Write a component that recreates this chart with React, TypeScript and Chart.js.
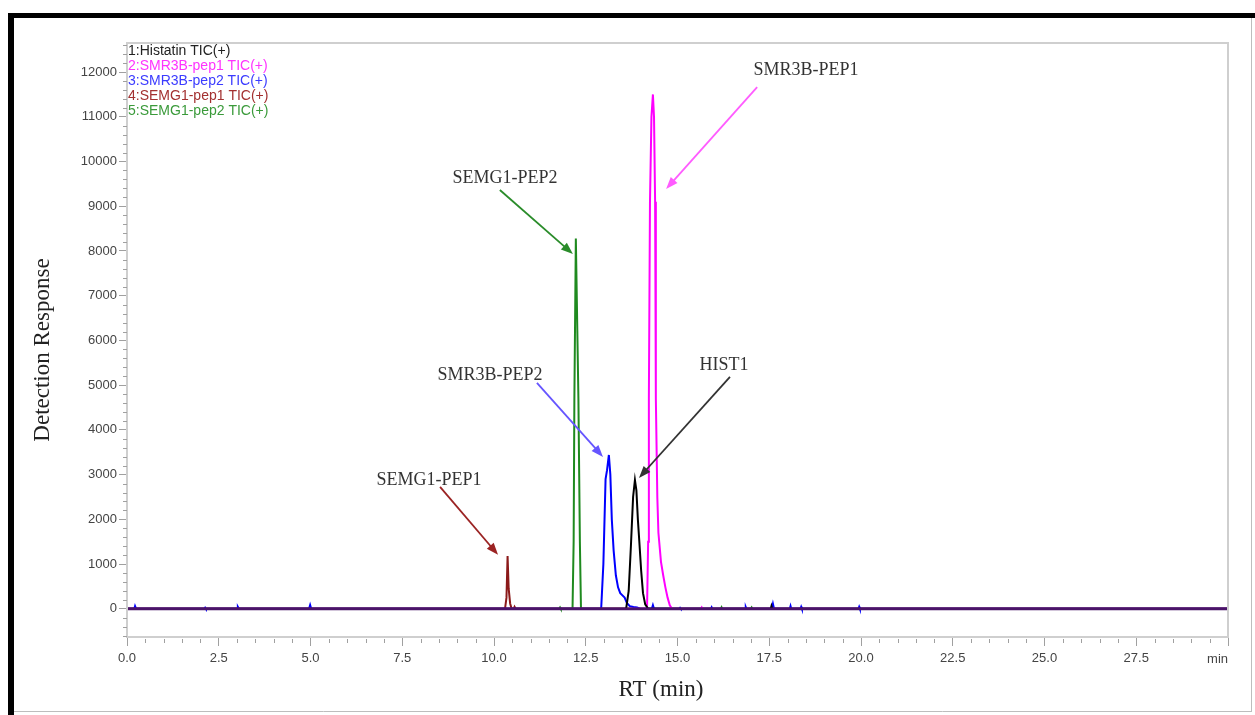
import React, { useEffect, useRef } from 'react';
import { Chart, registerables } from 'chart.js';

Chart.register(...registerables);

// ---------- data ----------
const seriesLabels = [
  '1:Histatin TIC(+)',
  '2:SMR3B-pep1 TIC(+)',
  '3:SMR3B-pep2 TIC(+)',
  '4:SEMG1-pep1 TIC(+)',
  '5:SEMG1-pep2 TIC(+)',
];
const seriesColors = ['#000000', '#ff00ff', '#0000ff', '#8b1a1a', '#1f8a1f'];
const legendColors = ['#222222', '#ff33ff', '#3b3bff', '#a33030', '#3a9a3a'];

// [RT (min), response]
const histatin: [number, number][] = [
  [0, 0], [13.6, 0], [13.67, 400], [13.73, 1400], [13.79, 2500], [13.84, 2880], [13.88, 2650],
  [13.92, 2000], [13.96, 1500], [14.01, 850], [14.06, 350], [14.12, 100], [14.2, 0],
  [17.54, 0], [17.56, 60], [17.58, 0], [30, 0],
];
const smr3bPep1: [number, number][] = [
  [0, 0], [14.17, 0], [14.2, 1500], [14.22, 4700], [14.25, 9100], [14.29, 11000], [14.33, 11500],
  [14.36, 11000], [14.39, 9100], [14.41, 4700], [14.45, 2500], [14.48, 1700], [14.55, 1050],
  [14.61, 750], [14.67, 480], [14.73, 250], [14.79, 80], [14.85, 0], [15.64, 0], [15.66, 30],
  [15.68, 0], [30, 0],
];
const smr3bPep2: [number, number][] = [
  [0, 0], [0.2, 0], [0.22, 60], [0.25, 0], [2.11, 0], [2.13, 25], [2.15, 0], [3.0, 0], [3.02, 45],
  [3.05, 0], [4.96, 0], [4.99, 85], [5.02, 0], [12.92, 0], [12.98, 1000], [13.04, 2900],
  [13.08, 3100], [13.13, 3440], [13.17, 3000], [13.21, 2000], [13.26, 1300], [13.32, 750],
  [13.38, 480], [13.44, 350], [13.5, 300], [13.56, 250], [13.62, 130], [13.7, 60], [13.8, 40],
  [13.9, 30], [14.0, 0], [14.3, 0], [14.33, 80], [14.36, 0], [15.05, 0], [15.07, 20], [15.09, 0],
  [15.91, 0], [15.93, 35], [15.95, 0], [16.84, 0], [16.86, 40], [16.88, 0], [17.57, 0],
  [17.6, 110], [17.63, 0], [18.06, 0], [18.08, 60], [18.1, 0], [18.35, 0], [18.37, 45],
  [18.39, 0], [19.93, 0], [19.95, 45], [19.97, 0], [30, 0],
];
const semg1Pep1: [number, number][] = [
  [0, 0], [10.3, 0], [10.34, 250], [10.37, 1180], [10.4, 450], [10.44, 120], [10.48, 0],
  [10.54, 0], [10.56, 45], [10.59, 0], [30, 0],
];
const semg1Pep2: [number, number][] = [
  [0, 0], [11.78, 0], [11.8, 30], [11.82, 0], [12.14, 0], [12.17, 1500], [12.19, 4700],
  [12.23, 8280], [12.3, 4700], [12.34, 1500], [12.37, 0], [16.18, 0],
  [16.2, 35], [16.22, 0], [17.0, 0], [17.02, 30], [17.04, 0], [30, 0],
];
const seriesData = [histatin, smr3bPep1, smr3bPep2, semg1Pep1, semg1Pep2];

const xTickValues = [0, 2.5, 5, 7.5, 10, 12.5, 15, 17.5, 20, 22.5, 25, 27.5, 30];
const yTickValues = [0, 1000, 2000, 3000, 4000, 5000, 6000, 7000, 8000, 9000, 10000, 11000, 12000];
const xUnitLabel = 'min';
const xTitle = 'RT (min)';
const yTitle = 'Detection Response';

// annotations, in data coordinates [RT, response]
const annotationTexts = ['SMR3B-PEP1', 'SEMG1-PEP2', 'SMR3B-PEP2', 'HIST1', 'SEMG1-PEP1'];
const annotationColors = ['#ff5cff', '#2a8c2a', '#6655ff', '#333333', '#9b2323'];
const annotationTextAt: [number, number][] = [[18.5, 12045], [10.3, 9631], [9.89, 5229], [16.27, 5453], [8.23, 2883]];
const annotationFrom: [number, number][] = [[17.17, 11665], [10.16, 9363], [11.17, 5050], [16.43, 5184], [8.53, 2726]];
const annotationTo: [number, number][] = [[14.69, 9385], [12.15, 7933], [12.97, 3397], [13.95, 2927], [10.11, 1207]];

const SANS = '"Liberation Sans", Arial, sans-serif';
const SERIF = '"Liberation Serif", "Times New Roman", serif';

const decorPlugin = {
  id: 'decor',
  beforeDraw(chart: any) {
    const ctx = chart.ctx;
    ctx.save();
    ctx.fillStyle = '#ffffff';
    ctx.fillRect(0, 0, chart.width, chart.height);
    // outer frame
    ctx.fillStyle = '#000000';
    ctx.fillRect(8, 13, chart.width - 8, 5);
    ctx.fillRect(8, 13, 6, chart.height - 13);
    ctx.strokeStyle = '#bdbdbd';
    ctx.lineWidth = 1;
    ctx.beginPath();
    ctx.moveTo(1251.5, 18);
    ctx.lineTo(1251.5, 712);
    ctx.moveTo(14, 711.5);
    ctx.lineTo(1252, 711.5);
    ctx.stroke();
    ctx.restore();
  },
  afterDatasetsDraw(chart: any) {
    const ctx = chart.ctx;
    const a = chart.chartArea;
    const xs = chart.scales.x;
    const ys = chart.scales.y;
    ctx.save();
    // baseline (overlapping traces)
    const y0 = ys.getPixelForValue(0);
    ctx.strokeStyle = '#4a1468';
    ctx.lineWidth = 2.8;
    ctx.beginPath();
    ctx.moveTo(a.left, y0);
    ctx.lineTo(a.right, y0);
    ctx.stroke();

    // plot frame
    ctx.strokeStyle = '#cfcfcf';
    ctx.lineWidth = 2;
    ctx.strokeRect(a.left, a.top, a.right - a.left, a.bottom - a.top);

    // minor ticks
    ctx.strokeStyle = '#a0a0a0';
    ctx.lineWidth = 1;
    ctx.beginPath();
    for (let v = 0; v <= 30.0001; v += 0.5) {
      if (Math.abs(v / 2.5 - Math.round(v / 2.5)) < 1e-6) continue;
      const px = Math.round(xs.getPixelForValue(v)) + 0.5;
      ctx.moveTo(px, a.bottom + 2);
      ctx.lineTo(px, a.bottom + 6);
    }
    for (let v = -600; v <= 12600; v += 200) {
      if (v % 1000 === 0) continue;
      const py = Math.round(ys.getPixelForValue(v)) + 0.5;
      ctx.moveTo(a.left - 4, py);
      ctx.lineTo(a.left, py);
    }
    ctx.stroke();

    // unit label at the right end of x axis
    ctx.fillStyle = '#444444';
    ctx.font = `13px ${SANS}`;
    ctx.textAlign = 'right';
    ctx.textBaseline = 'middle';
    ctx.fillText(xUnitLabel, a.right, 659);

    // legend
    ctx.textAlign = 'left';
    ctx.font = `14px ${SANS}`;
    chart.data.datasets.forEach((ds: any, i: number) => {
      ctx.fillStyle = legendColors[i];
      ctx.fillText(ds.label, a.left + 1, a.top + 8 + i * 15);
    });

    // axis titles
    ctx.fillStyle = '#222222';
    ctx.font = `23px ${SERIF}`;
    ctx.textAlign = 'center';
    ctx.textBaseline = 'middle';
    ctx.fillText(xTitle, 661, 690);
    ctx.save();
    ctx.translate(43, (a.top + a.bottom) / 2 + 10);
    ctx.rotate(-Math.PI / 2);
    ctx.fillText(yTitle, 0, 0);
    ctx.restore();

    // annotations
    annotationTexts.forEach((t, i) => {
      const tx = xs.getPixelForValue(annotationTextAt[i][0]);
      const ty = ys.getPixelForValue(annotationTextAt[i][1]);
      ctx.fillStyle = '#333333';
      ctx.font = `18px ${SERIF}`;
      ctx.textAlign = 'center';
      ctx.textBaseline = 'middle';
      ctx.fillText(t, tx, ty);
      const x1 = xs.getPixelForValue(annotationFrom[i][0]);
      const y1 = ys.getPixelForValue(annotationFrom[i][1]);
      const x2 = xs.getPixelForValue(annotationTo[i][0]);
      const y2 = ys.getPixelForValue(annotationTo[i][1]);
      const ang = Math.atan2(y2 - y1, x2 - x1);
      const hl = 12;
      const hw = 4.5;
      ctx.strokeStyle = annotationColors[i];
      ctx.fillStyle = annotationColors[i];
      ctx.lineWidth = 1.8;
      ctx.beginPath();
      ctx.moveTo(x1, y1);
      ctx.lineTo(x2 - Math.cos(ang) * hl * 0.8, y2 - Math.sin(ang) * hl * 0.8);
      ctx.stroke();
      ctx.beginPath();
      ctx.moveTo(x2, y2);
      ctx.lineTo(x2 - Math.cos(ang) * hl - Math.sin(ang) * hw, y2 - Math.sin(ang) * hl + Math.cos(ang) * hw);
      ctx.lineTo(x2 - Math.cos(ang) * hl + Math.sin(ang) * hw, y2 - Math.sin(ang) * hl - Math.cos(ang) * hw);
      ctx.closePath();
      ctx.fill();
    });
    ctx.restore();
  },
};

export default function App() {
  const canvasRef = useRef<HTMLCanvasElement | null>(null);

  useEffect(() => {
    const canvas = canvasRef.current;
    if (!canvas) return;
    const datasets = seriesData.map((d, i) => ({
      label: seriesLabels[i],
      data: d.map(([x, y]) => ({ x, y })),
      borderColor: seriesColors[i],
      backgroundColor: seriesColors[i],
      borderWidth: 2,
      pointRadius: 0,
      tension: 0,
      fill: false,
    }));
    const chart = new Chart(canvas, {
      type: 'line',
      data: { datasets },
      plugins: [decorPlugin],
      options: {
        animation: false,
        responsive: false,
        layout: { padding: { left: 0, top: 43, right: 27, bottom: 0 } },
        plugins: { legend: { display: false }, tooltip: { enabled: false } },
        scales: {
          x: {
            type: 'linear',
            min: 0,
            max: 30,
            afterBuildTicks: (s: any) => {
              s.ticks = xTickValues.map((v) => ({ value: v }));
            },
            afterFit: (s: any) => {
              s.height = 78;
            },
            ticks: {
              autoSkip: false,
              maxRotation: 0,
              padding: 5,
              color: '#444444',
              font: { family: SANS, size: 13 },
              callback: (v: any) => (Math.abs(Number(v) - 30) < 1e-6 ? '' : Number(v).toFixed(1)),
            },
            grid: { drawOnChartArea: false, drawTicks: true, tickLength: 9, color: '#a0a0a0' },
            border: { display: false },
          },
          y: {
            type: 'linear',
            min: -630,
            max: 12650,
            afterBuildTicks: (s: any) => {
              s.ticks = yTickValues.map((v) => ({ value: v }));
            },
            afterFit: (s: any) => {
              s.width = 127;
            },
            ticks: {
              autoSkip: false,
              padding: 2,
              color: '#444444',
              font: { family: SANS, size: 13 },
              callback: (v: any) => String(v),
            },
            grid: { drawOnChartArea: false, drawTicks: true, tickLength: 8, color: '#a0a0a0' },
            border: { display: false },
          },
        },
      },
    } as any);
    return () => chart.destroy();
  }, []);

  return (
    <div style={{ position: 'fixed', left: 0, top: 0, width: 1255, height: 715, background: '#fff' }}>
      <canvas ref={canvasRef} width={1255} height={715} style={{ display: 'block', width: 1255, height: 715 }} />
    </div>
  );
}
